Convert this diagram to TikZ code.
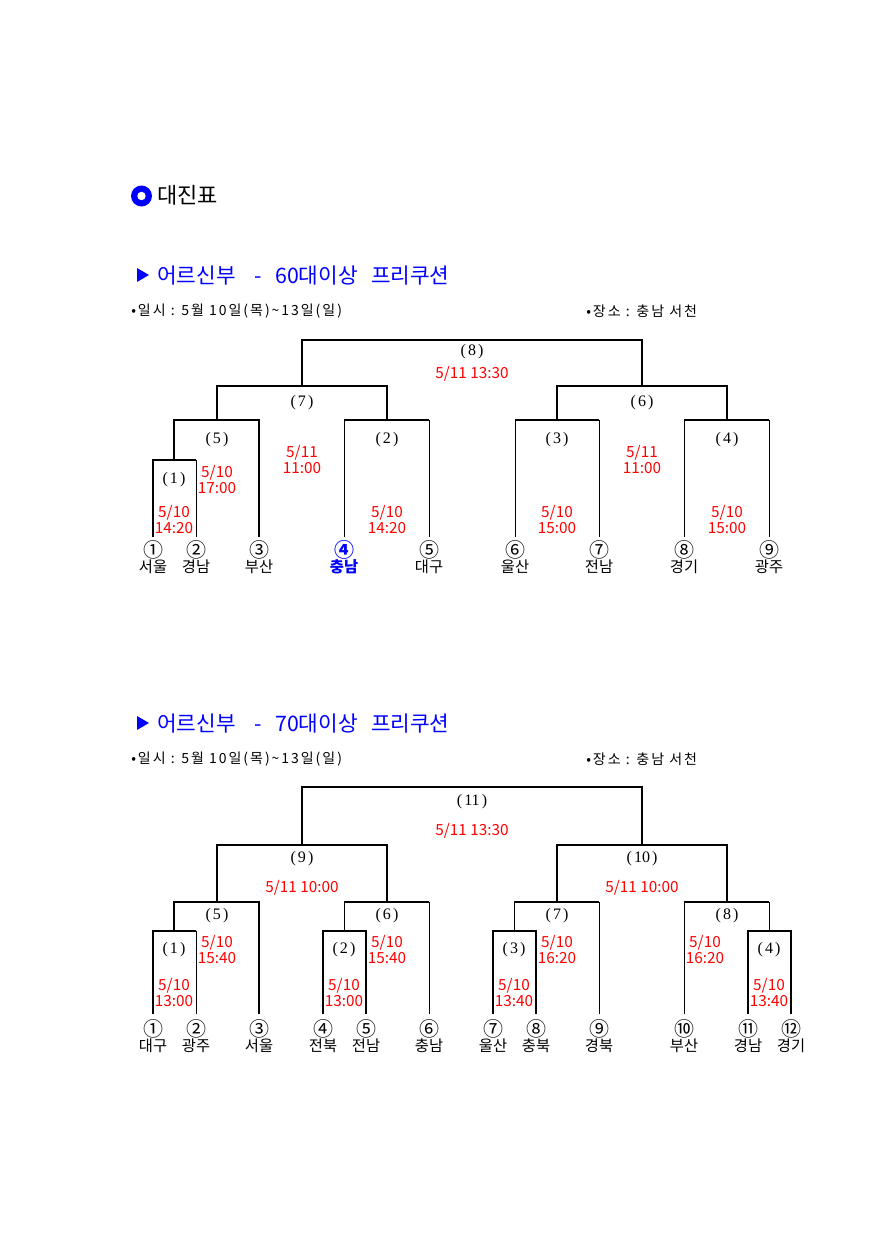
\documentclass[tikz,border=0pt]{standalone}
\usepackage{fontspec}
\setmainfont{Noto Sans CJK KR}
\newfontfamily\numserif{Liberation Serif}
\definecolor{kred}{RGB}{255,0,0}
\definecolor{kblue}{RGB}{0,0,255}
\newcommand{\ml}[1]{(\kern1.6pt#1\kern1.6pt)}
\newcommand{\cn}[1]{{\fontsize{15}{12}\selectfont #1}}
\begin{document}
\begin{tikzpicture}[x=0.75pt,y=-0.75pt,
  thk/.style={line width=1.5pt, line join=miter},
  thn/.style={line width=0.75pt},
  mlab/.style={font=\numserif\fontsize{12}{13}\selectfont, inner sep=0},
  dt/.style={text=kred, font=\fontsize{11.5}{12}\selectfont, align=center, inner sep=0},
  pl/.style={font=\fontsize{11.5}{11.5}\selectfont, align=center, inner sep=0},
  ttl/.style={text=kblue, font=\fontsize{16}{17}\selectfont, anchor=west, inner sep=0},
  inf/.style={font=\fontsize{10.5}{11}\selectfont\addfontfeature{LetterSpace=14}, anchor=west, inner sep=0}]
\fill[white] (0,0) rectangle (888,1256);
\useasboundingbox (0,0) rectangle (888,1256);

% heading
\fill[kblue] (141.5,196) circle (10.5);
\fill[white] (141.5,196) circle (4.2);
\node[anchor=west, inner sep=0, font=\fontsize{16.5}{17}\selectfont] (head) at (157,195) {대진표};

% ===== section 1 =====
\fill[kblue] (137,268) -- (149,275) -- (137,282) -- cycle;
\node[ttl] (t1) at (157,276) {어르신부\hspace{14pt}-\hspace{10pt}60대이상\hspace{10pt}프리쿠션};
\node[inf] (d1) at (131,311) {•일시 : 5월 10일(목)\textasciitilde13일(일)};
\node[inf] (l1) at (586,311) {•장소 : 충남 서천};

% lines
\draw[thk] (302,386) -- (302,340) -- (642,340) -- (642,386);
\draw[thk] (217,420) -- (217,386) -- (387,386) -- (387,420);
\draw[thk] (557,420) -- (557,386) -- (727,386) -- (727,420);
\draw[thk] (174,460) -- (174,420) -- (259,420) -- (259,537);
\draw[thk] (153,537) -- (153,460) -- (196,460);
\draw[thn] (196,460) -- (196,537);
\draw[thk] (344,420) -- (429,420);
\draw[thn] (344,420) -- (344,537) (429,420) -- (429,537);
\draw[thk] (515,420) -- (599,420);
\draw[thn] (515,420) -- (515,537) (599,420) -- (599,537);
\draw[thk] (684,420) -- (769,420);
\draw[thn] (684,420) -- (684,537) (769,420) -- (769,537);

% match labels
\node[mlab] (a8) at (472,352) {\ml{8}};
\node[mlab] (a7) at (302,403) {\ml{7}};
\node[mlab] (a6) at (642,403) {\ml{6}};
\node[mlab] (a5) at (217,440) {\ml{5}};
\node[mlab] (a2) at (387,440) {\ml{2}};
\node[mlab] (a3) at (557,440) {\ml{3}};
\node[mlab] (a4) at (727,440) {\ml{4}};
\node[mlab] (a1) at (174,480) {\ml{1}};

% dates
\node[dt] (ad8) at (472,374) {5/11 13:30};
\node[dt] (ad7) at (302,460) {5/11\\11:00};
\node[dt] (ad6) at (642,460) {5/11\\11:00};
\node[dt] (ad5) at (217,480) {5/10\\17:00};
\node[dt] (ad1) at (174,520) {5/10\\14:20};
\node[dt] (ad2) at (387,520) {5/10\\14:20};
\node[dt] (ad3) at (557,520) {5/10\\15:00};
\node[dt] (ad4) at (727,520) {5/10\\15:00};

% players
\node[pl] (ap1) at (153,557) {\cn{①}\\서울};
\node[pl] (ap2) at (196,557) {\cn{②}\\경남};
\node[pl] (ap3) at (259,557) {\cn{③}\\부산};
\node[pl, text=kblue, font=\fontsize{11.5}{11.5}\selectfont\bfseries] (ap4) at (344,557) {\cn{④}\\충남};
\node[pl] (ap5) at (429,557) {\cn{⑤}\\대구};
\node[pl] (ap6) at (515,557) {\cn{⑥}\\울산};
\node[pl] (ap7) at (599,557) {\cn{⑦}\\전남};
\node[pl] (ap8) at (684,557) {\cn{⑧}\\경기};
\node[pl] (ap9) at (769,557) {\cn{⑨}\\광주};

% ===== section 2 =====
\fill[kblue] (137,716) -- (149,723) -- (137,730) -- cycle;
\node[ttl] (t2) at (157,724) {어르신부\hspace{14pt}-\hspace{10pt}70대이상\hspace{10pt}프리쿠션};
\node[inf] (d2) at (131,759) {•일시 : 5월 10일(목)\textasciitilde13일(일)};
\node[inf] (l2) at (586,759) {•장소 : 충남 서천};

\draw[thk] (302,845) -- (302,787) -- (642,787) -- (642,845);
\draw[thk] (217,902) -- (217,845) -- (387,845) -- (387,902);
\draw[thk] (557,902) -- (557,845) -- (727,845) -- (727,902);
\draw[thk] (174,931) -- (174,902) -- (259,902) -- (259,1014);
\draw[thk] (153,1014) -- (153,931) -- (196,931);
\draw[thn] (196,931) -- (196,1014);
\draw[thk] (344,902) -- (429,902);
\draw[thn] (344,902) -- (344,931) (429,902) -- (429,1014);
\draw[thk] (323,1014) -- (323,931) -- (366,931) -- (366,1014);
\draw[thk] (514,902) -- (599,902);
\draw[thn] (514,902) -- (514,931) (599,902) -- (599,1014);
\draw[thk] (493,1014) -- (493,931) -- (536,931) -- (536,1014);
\draw[thk] (684,902) -- (769,902);
\draw[thn] (684,902) -- (684,1014) (769,902) -- (769,931);
\draw[thk] (748,1014) -- (748,931) -- (791,931) -- (791,1014);

\node[mlab] (b11) at (472,802) {\ml{11}};
\node[mlab] (b9) at (302,859) {\ml{9}};
\node[mlab] (b10) at (642,859) {\ml{10}};
\node[mlab] (b5) at (217,916) {\ml{5}};
\node[mlab] (b6) at (387,916) {\ml{6}};
\node[mlab] (b7) at (557,916) {\ml{7}};
\node[mlab] (b8) at (727,916) {\ml{8}};
\node[mlab] (b1) at (174,950) {\ml{1}};
\node[mlab] (b2) at (344,950) {\ml{2}};
\node[mlab] (b3) at (514,950) {\ml{3}};
\node[mlab] (b4) at (769,950) {\ml{4}};

\node[dt] (bd11) at (472,831) {5/11 13:30};
\node[dt] (bd9) at (302,888) {5/11 10:00};
\node[dt] (bd10) at (642,888) {5/11 10:00};
\node[dt] (bd5) at (217,950) {5/10\\15:40};
\node[dt] (bd6) at (387,950) {5/10\\15:40};
\node[dt] (bd7) at (557,950) {5/10\\16:20};
\node[dt] (bd8) at (705,950) {5/10\\16:20};
\node[dt] (bd1) at (174,992) {5/10\\13:00};
\node[dt] (bd2) at (344,992) {5/10\\13:00};
\node[dt] (bd3) at (514,992) {5/10\\13:40};
\node[dt] (bd4) at (769,992) {5/10\\13:40};

\node[pl] (bp1) at (153,1036) {\cn{①}\\대구};
\node[pl] (bp2) at (196,1036) {\cn{②}\\광주};
\node[pl] (bp3) at (259,1036) {\cn{③}\\서울};
\node[pl] (bp4) at (323,1036) {\cn{④}\\전북};
\node[pl] (bp5) at (366,1036) {\cn{⑤}\\전남};
\node[pl] (bp6) at (429,1036) {\cn{⑥}\\충남};
\node[pl] (bp7) at (493,1036) {\cn{⑦}\\울산};
\node[pl] (bp8) at (536,1036) {\cn{⑧}\\충북};
\node[pl] (bp9) at (599,1036) {\cn{⑨}\\경북};
\node[pl] (bp10) at (684,1036) {\cn{⑩}\\부산};
\node[pl] (bp11) at (748,1036) {\cn{⑪}\\경남};
\node[pl] (bp12) at (791,1036) {\cn{⑫}\\경기};
\end{tikzpicture}
\end{document}
